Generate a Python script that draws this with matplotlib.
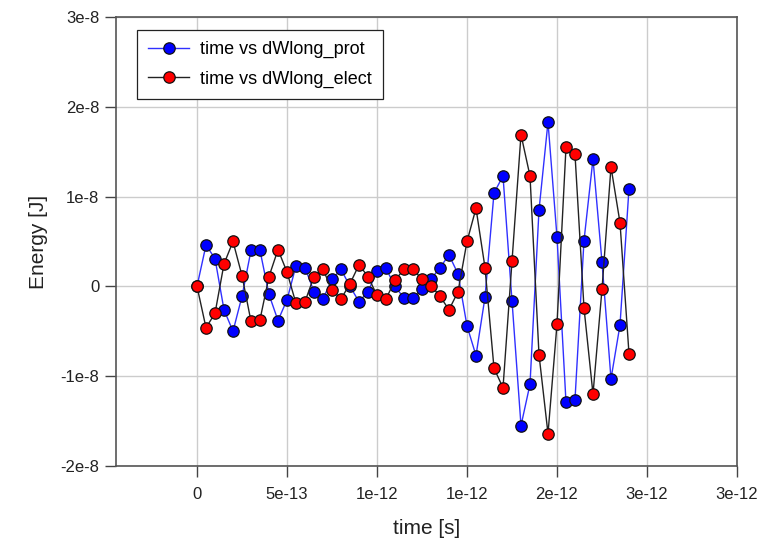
import numpy as np
import matplotlib
matplotlib.use("Agg")
import matplotlib.pyplot as plt

plt.rcParams['font.family'] = ['Liberation Sans', 'DejaVu Sans']

# time step 5e-14 s, 49 samples
time = np.arange(49) * 5e-14

# energy values in units of 1e-8 J
dw_prot = [0.00, 0.46, 0.31, -0.26, -0.50, -0.11, 0.40, 0.40, -0.09, -0.38,
           -0.15, 0.23, 0.21, -0.06, -0.14, 0.08, 0.19, 0.00, -0.17, -0.06,
           0.17, 0.20, 0.00, -0.13, -0.13, -0.03, 0.08, 0.21, 0.35, 0.14,
           -0.44, -0.77, -0.12, 1.04, 1.23, -0.16, -1.55, -1.09, 0.85, 1.83,
           0.55, -1.29, -1.26, 0.51, 1.42, 0.27, -1.03, -0.43, 1.09]
dw_elect = [0.00, -0.46, -0.30, 0.25, 0.50, 0.12, -0.39, -0.37, 0.11, 0.41,
            0.16, -0.19, -0.17, 0.11, 0.19, -0.04, -0.14, 0.03, 0.24, 0.11,
            -0.10, -0.14, 0.07, 0.19, 0.19, 0.08, 0.01, -0.11, -0.26, -0.06,
            0.50, 0.87, 0.21, -0.91, -1.13, 0.28, 1.69, 1.23, -0.76, -1.64,
            -0.42, 1.55, 1.47, -0.24, -1.20, -0.03, 1.33, 0.71, -0.75]

x_ticks = [0, 5e-13, 1e-12, 1.5e-12, 2e-12, 2.5e-12, 3e-12]
x_labels = ['0', '5e-13', '1e-12', '1e-12', '2e-12', '3e-12', '3e-12']
y_ticks = [-2e-8, -1e-8, 0, 1e-8, 2e-8, 3e-8]
y_labels = ['-2e-8', '-1e-8', '0', '1e-8', '2e-8', '3e-8']

fig = plt.figure(figsize=(7.72, 5.42), dpi=100)
ax = fig.add_axes([116 / 772, 1 - 466 / 542, 621 / 772, 449 / 542])

prot = np.array(dw_prot) * 1e-8
elect = np.array(dw_elect) * 1e-8

ax.plot(time, prot, color='#3030ff', lw=1, marker='o', ms=8.2,
        mfc='#0000ff', mec='#111111', mew=0.9, label='time vs dWlong_prot')
ax.plot(time, elect, color='#222222', lw=1, marker='o', ms=8.2,
        mfc='#ff0000', mec='#111111', mew=0.9, label='time vs dWlong_elect')

ax.set_xlim(-4.5e-13, 3e-12)
ax.set_ylim(-2e-8, 3e-8)
ax.set_xticks(x_ticks)
ax.set_xticklabels(x_labels)
ax.set_yticks(y_ticks)
ax.set_yticklabels(y_labels)
ax.tick_params(direction='out', length=8, width=1, color='#444444',
               labelsize=12, labelcolor='#222222', pad=7)
ax.tick_params(axis='y', pad=4)
ax.grid(True, color='#cccccc', lw=1)
ax.set_axisbelow(True)
for s in ax.spines.values():
    s.set_color('#555555')
    s.set_linewidth(1.2)

ax.set_xlabel('time [s]', fontsize=15, labelpad=12, color='#222222')
ax.set_ylabel('Energy [J]', fontsize=15, labelpad=9, color='#222222')

leg = ax.legend(loc='upper left', bbox_to_anchor=(0.034, 0.971), fontsize=13,
                fancybox=False, framealpha=1, edgecolor='#222222',
                borderaxespad=0, handlelength=2.3, handletextpad=0.6,
                borderpad=0.6, labelspacing=0.7)
leg.get_frame().set_linewidth(0.9)

fig.savefig('out.png', dpi=100)
